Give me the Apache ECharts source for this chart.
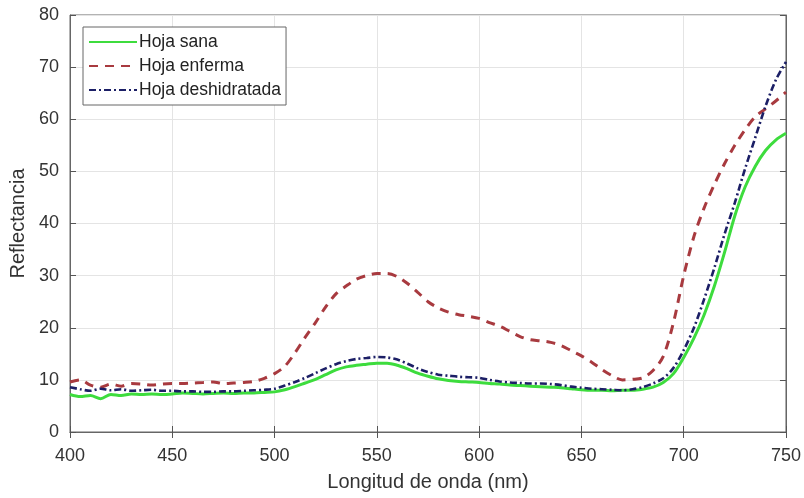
<!DOCTYPE html>
<html>
<head>
<meta charset="utf-8">
<script src="https://cdn.jsdelivr.net/npm/echarts@6/dist/echarts.min.js"></script>
<style>html,body{margin:0;padding:0;background:#fff;}#c{width:804px;height:498px;}</style>
</head>
<body>
<div id="c"></div>
<script>
const wavelengths = [400,405,410,415,420,425,430,435,440,445,450,455,460,465,470,475,480,485,490,495,500,505,510,515,520,525,530,535,540,545,550,555,560,565,570,575,580,585,590,595,600,605,610,615,620,625,630,635,640,645,650,655,660,665,670,675,680,685,690,695,700,705,710,715,720,725,730,735,740,745,750];

const hojaSana = [7.2,6.8,7.0,6.4,7.2,7.0,7.3,7.2,7.3,7.2,7.3,7.5,7.4,7.3,7.4,7.5,7.4,7.5,7.5,7.6,7.7,8.1,8.7,9.4,10.1,11.0,11.9,12.5,12.8,13.0,13.2,13.2,12.8,12.1,11.3,10.7,10.2,9.9,9.7,9.6,9.5,9.3,9.2,9.0,8.9,8.8,8.7,8.6,8.5,8.3,8.1,8.0,8.0,7.9,8.0,8.0,8.2,8.6,9.5,11.2,14.3,18.0,22.5,28.0,34.5,41.5,47.0,51.0,54.0,56.0,57.3];

const hojaEnferma = [9.6,10.0,9.0,8.6,9.2,8.8,9.3,9.2,9.0,9.2,9.3,9.3,9.4,9.5,9.6,9.3,9.4,9.5,9.7,10.3,11.2,12.6,15.2,18.2,21.0,24.0,26.5,28.0,29.3,30.0,30.4,30.4,29.8,28.5,26.8,25.0,23.8,23.0,22.5,22.2,21.8,21.0,20.3,19.3,18.3,17.7,17.5,17.2,16.6,15.6,14.6,13.4,12.0,10.8,10.0,10.1,10.4,11.8,14.5,21.0,30.0,37.5,43.0,47.5,51.5,55.0,58.0,60.5,62.0,63.5,65.2];

const hojaDeshidratada = [8.6,8.2,7.9,8.3,8.0,8.2,7.9,8.0,8.1,7.9,7.9,7.8,7.8,7.7,7.7,7.8,7.8,7.9,8.0,8.1,8.3,8.9,9.6,10.4,11.3,12.2,13.0,13.6,14.0,14.2,14.4,14.3,13.9,13.1,12.2,11.5,11.0,10.8,10.6,10.5,10.4,10.0,9.7,9.5,9.4,9.3,9.3,9.2,9.0,8.7,8.5,8.3,8.2,8.1,8.0,8.2,8.6,9.3,10.3,12.3,15.7,20.0,25.5,31.5,38.0,44.0,50.5,56.5,62.5,67.5,71.0];

const seriesNames = ['Hoja sana','Hoja enferma','Hoja deshidratada'];
const xLabel = 'Longitud de onda (nm)';
const yLabel = 'Reflectancia';

const pairs = arr => wavelengths.map((w,i)=>[w,arr[i]]);
const font = 'Liberation Sans, Arial, sans-serif';
const chart = echarts.init(document.getElementById('c'));
const tickStyle = {lineStyle:{color:'#555',width:1}};
chart.setOption({
  animation:false,
  backgroundColor:'#fff',
  grid:{left:69,right:18,top:15,bottom:66,show:true,borderColor:'#666',borderWidth:1,backgroundColor:'#fff'},
  legend:{
    orient:'vertical',left:83,top:27,
    data:seriesNames,
    itemWidth:48,itemHeight:14,itemGap:6,
    padding:[6,5,6,5],
    borderColor:'#666',borderWidth:1,backgroundColor:'#fff',
    itemStyle:{opacity:0},
    textStyle:{fontFamily:font,fontSize:17.5,color:'#222',padding:[0,0,0,-3]}
  },
  xAxis:[{
    type:'value',min:400,max:750,interval:50,
    name:xLabel,nameLocation:'middle',nameGap:40,
    nameTextStyle:{fontFamily:font,fontSize:20,color:'#333'},
    axisLine:{show:true,lineStyle:{color:'#666'}},
    axisTick:{show:true,inside:true,length:6,...tickStyle},
    axisLabel:{fontFamily:font,fontSize:18,color:'#333',margin:15},
    splitLine:{show:true,lineStyle:{color:'#e4e4e4',width:1}}
  },{
    type:'value',position:'top',min:400,max:750,interval:50,
    axisLine:{show:true,lineStyle:{color:'#666'}},
    axisTick:{show:true,inside:true,length:6,...tickStyle},
    axisLabel:{show:false},splitLine:{show:false}
  }],
  yAxis:[{
    type:'value',min:0,max:80,interval:10,
    name:yLabel,nameLocation:'middle',nameGap:42,
    nameTextStyle:{fontFamily:font,fontSize:20,color:'#333'},
    axisLine:{show:true,lineStyle:{color:'#666'}},
    axisTick:{show:true,inside:true,length:6,...tickStyle},
    axisLabel:{fontFamily:font,fontSize:18,color:'#333',margin:11},
    splitLine:{show:true,lineStyle:{color:'#e4e4e4',width:1}}
  },{
    type:'value',position:'right',min:0,max:80,interval:10,
    axisLine:{show:true,lineStyle:{color:'#666'}},
    axisTick:{show:true,inside:true,length:6,...tickStyle},
    axisLabel:{show:false},splitLine:{show:false}
  }],
  series:[
    {name:seriesNames[0],type:'line',data:pairs(hojaSana),showSymbol:false,symbol:'none',smooth:0.3,
     lineStyle:{color:'#3ddc3d',width:3},itemStyle:{color:'#3ddc3d'},z:2},
    {name:seriesNames[1],type:'line',data:pairs(hojaEnferma),showSymbol:false,symbol:'none',smooth:0.3,
     lineStyle:{color:'#a83a3f',width:3,type:[9,7]},itemStyle:{color:'#a83a3f'},z:3},
    {name:seriesNames[2],type:'line',data:pairs(hojaDeshidratada),showSymbol:false,symbol:'none',smooth:0.3,
     lineStyle:{color:'#1c1f66',width:2.6,type:[7,3,2,3]},itemStyle:{color:'#1c1f66'},z:4}
  ]
});
</script>
</body>
</html>
